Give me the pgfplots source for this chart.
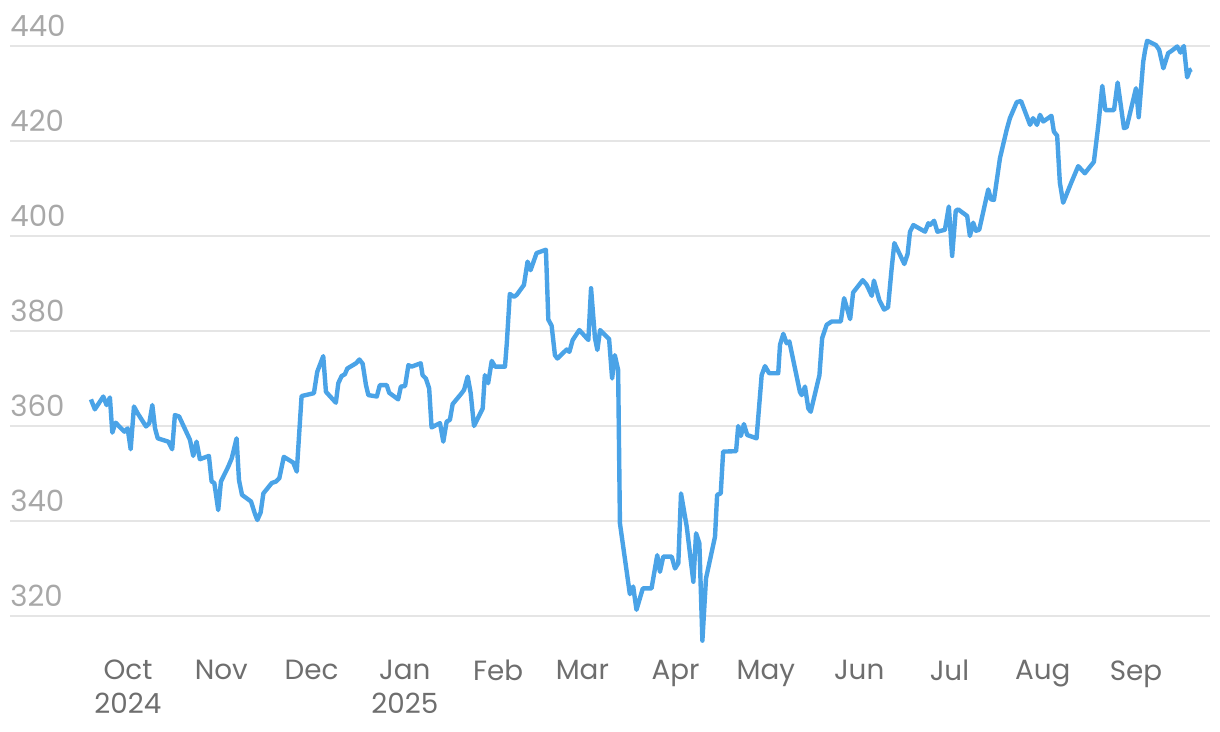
\documentclass[border=0pt]{standalone}
\usepackage{pgfplots}
\pgfplotsset{compat=1.18}
\usepackage{fontspec}
\setmainfont{Poppins}
\definecolor{linebl}{RGB}{74,163,231}
\definecolor{gridgr}{RGB}{229,229,229}
\definecolor{ylab}{RGB}{168,168,168}
\definecolor{xlab}{RGB}{110,110,110}
\begin{document}
\begin{tikzpicture}
\path[use as bounding box] (-5pt,-41pt) rectangle (605pt,325pt);
\begin{axis}[
  scale only axis, width=600pt, height=325pt,
  xmin=-39.2, xmax=359.6, ymin=312.84, ymax=449.68,
  axis line style={draw=none}, tick style={draw=none},
  ytick={320,340,...,440}, ymajorgrids,
  grid style={gridgr, line width=0.7pt},
  xtick={0,31,61,92,123,151,182,212,243,273,304,335},
  xticklabels={Oct\\2024,Nov,Dec,Jan\\2025,Feb,Mar,Apr,May,Jun,Jul,Aug,Sep},
  xticklabel style={align=center, anchor=north, inner sep=0pt, yshift=-5pt,
    font=\fontsize{13.9}{17}\selectfont, text=xlab},
  yticklabel style={anchor=base west, inner sep=0pt, yshift=4.6pt,
    font=\fontsize{14.6}{17}\selectfont, text=ylab},
  /pgf/number format/assume math mode=true,
  clip=false,
]
% x = days since 1 Oct 2024
\addplot[linebl, line width=2.2pt, line join=round, no markers] coordinates {
(-12.3,365.6) (-11.0,363.5) (-8.2,366.2) (-7.1,364.4) (-6.0,366.0) (-5.2,358.6)
(-4.1,360.7) (-1.2,358.8) (-0.1,359.5) (0.9,355.1) (2.0,364.1) (3.2,362.7)
(6.0,359.9) (7.1,360.6) (8.1,364.4) (9.0,359.5) (9.9,357.4) (13.4,356.7)
(14.7,355.1) (15.6,362.3) (17.0,362.0) (20.6,357.1) (21.7,353.7) (22.8,356.7)
(23.9,353.0) (26.9,353.7) (27.8,348.3) (28.7,348.0) (30.0,342.3) (30.9,348.3)
(33.3,351.4) (34.5,353.2) (36.1,357.4) (36.9,348.6) (37.9,345.5) (40.9,344.1)
(42.2,341.5) (43.0,340.2) (44.1,341.8) (45.0,345.8) (47.8,348.0) (49.2,348.3)
(50.3,349.0) (51.8,353.5) (54.9,352.3) (56.1,350.4) (57.7,366.3) (61.8,366.9)
(62.9,371.4) (64.9,374.7) (65.8,367.2) (69.1,364.9) (69.9,369.0) (71.0,370.5)
(72.1,370.9) (72.9,372.1) (75.8,373.2) (76.9,374.0) (78.0,373.1) (79.1,368.6)
(79.9,366.5) (82.7,366.2) (83.7,368.6) (86.0,368.6) (86.8,367.0) (89.8,365.6)
(90.7,368.3) (92.1,368.4) (93.2,372.8) (94.3,372.5) (97.3,373.2) (97.9,370.7)
(99.0,370.0) (100.1,367.9) (100.9,359.7) (103.7,360.6) (104.8,356.7) (105.9,360.9)
(107.0,361.3) (107.9,364.6) (110.9,366.9) (111.7,367.6) (112.9,370.4) (113.9,366.9)
(115.0,360.0) (117.9,363.7) (118.6,370.7) (119.7,369.0) (120.9,373.7) (122.0,372.5)
(125.3,372.5) (125.9,377.4) (126.9,387.8) (128.3,387.2) (129.2,387.6) (131.6,389.7)
(132.8,394.6) (133.8,392.8) (135.8,396.4) (138.9,397.1) (139.7,382.4) (140.8,381.1)
(141.9,374.9) (142.7,374.2) (145.8,376.1) (146.7,375.6) (147.8,378.1) (150.0,380.2)
(153.0,378.1) (153.9,389.0) (155.2,378.5) (156.0,376.0) (156.9,380.2) (159.9,378.3)
(160.9,370.0) (161.8,374.9) (162.9,371.8) (163.5,339.5) (166.8,324.6) (167.9,326.2)
(169.0,321.3) (171.1,325.8) (174.0,325.8) (175.9,332.8) (176.8,329.3) (177.9,332.5)
(180.7,332.5) (181.8,330.0) (182.9,331.1) (183.8,345.8) (185.7,338.8) (187.9,327.2)
(188.8,337.4) (189.9,335.3) (190.9,314.8) (192.1,327.9) (195.1,336.7) (195.8,345.5)
(197.0,345.8) (197.8,354.6) (202.1,354.7) (202.8,360.0) (203.7,357.9) (204.7,360.4)
(205.8,358.1) (208.9,357.4) (210.6,370.7) (211.7,372.6) (213.1,371.1) (216.1,371.1)
(216.7,377.1) (217.8,379.4) (218.9,377.4) (219.8,377.8) (223.3,367.2) (223.9,366.5)
(225.0,368.3) (226.1,363.7) (226.9,363.0) (229.8,370.7) (230.7,378.5) (232.2,381.3)
(233.9,382.0) (236.9,382.0) (238.0,386.9) (240.0,382.5) (241.0,388.1) (244.2,390.7)
(245.5,389.7) (247.2,387.4) (247.9,390.6) (249.7,386.5) (251.3,384.5) (252.6,385.0)
(253.8,393.2) (254.7,398.5) (256.6,396.0) (258.0,394.1) (259.1,396.2) (259.9,400.9)
(261.0,402.3) (264.9,400.9) (266.0,402.7) (266.5,402.3) (267.9,403.2) (269.0,400.9)
(271.5,401.3) (272.8,406.2) (273.9,395.8) (275.1,405.3) (275.9,405.6) (278.9,404.2)
(279.8,400.0) (280.9,402.8) (281.8,401.1) (282.9,401.3) (285.9,409.8) (286.8,407.7)
(287.8,407.6) (289.8,416.4) (292.0,422.3) (293.1,424.8) (295.4,428.2) (296.8,428.4)
(299.8,423.4) (300.8,424.8) (302.1,423.4) (303.1,425.5) (304.2,424.1) (306.9,425.3)
(307.7,422.0) (308.8,421.1) (309.7,411.2) (310.8,407.0) (313.6,411.4) (315.8,414.7)
(318.0,413.2) (321.0,415.6) (322.5,423.4) (323.8,431.6) (324.8,426.5) (327.7,426.5)
(328.9,432.3) (331.0,422.7) (331.9,422.9) (335.0,431.1) (335.9,425.0) (337.4,436.7)
(338.0,439.0) (338.7,441.1) (341.6,440.2) (342.7,439.2) (344.1,435.3) (345.7,438.5)
(346.9,439.0) (348.7,439.9) (349.8,438.6) (350.9,440.0) (352.0,433.4) (352.9,434.9)
(353.5,435.1)
};
\end{axis}
\end{tikzpicture}
\end{document}
